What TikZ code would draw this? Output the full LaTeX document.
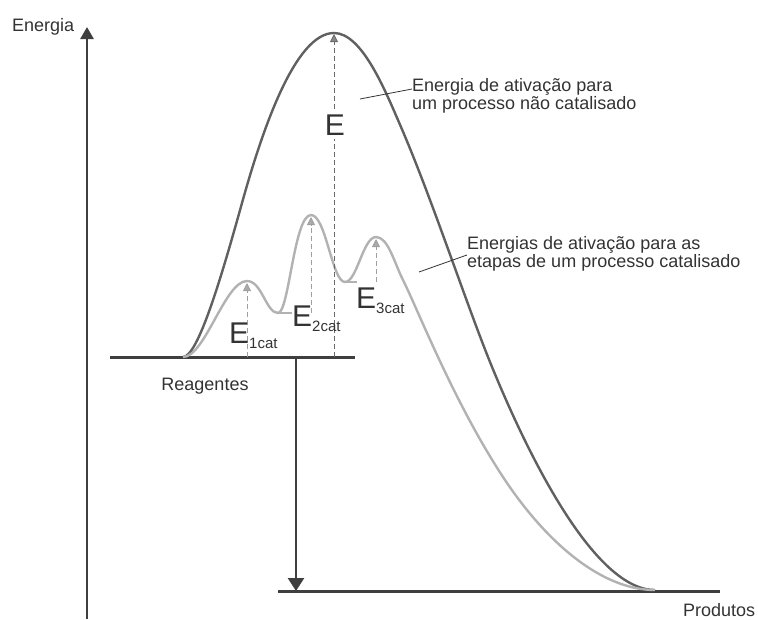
\documentclass[tikz,border=0pt]{standalone}
\usepackage{fontspec}
\setmainfont{Liberation Sans}
\usetikzlibrary{arrows.meta}
\definecolor{axisc}{HTML}{3F3F3F}
\definecolor{darkc}{HTML}{606060}
\definecolor{lightc}{HTML}{B2B2B2}
\definecolor{txtc}{HTML}{333333}
\definecolor{dashd}{HTML}{6A6A6A}
\definecolor{dashl}{HTML}{A0A0A0}
\tikzset{
  axisline/.style={draw=axisc, line width=2.6pt},
  levelline/.style={draw=axisc, line width=3pt},
  darkcurve/.style={draw=darkc, line width=2.4pt, line join=round},
  lightcurve/.style={draw=lightc, line width=2.4pt, line join=round},
  dashD/.style={draw=dashd, line width=0.9pt, dash pattern=on 5pt off 3pt},
  dashL/.style={draw=dashl, line width=0.9pt, dash pattern=on 5pt off 3pt},
  tipD/.style={-{Triangle[width=8pt,length=8pt,fill=dashd!80]}},
  tipL/.style={-{Triangle[width=8pt,length=8pt,fill=dashl!90]}},
  leader/.style={draw=txtc, line width=0.8pt},
  labeltext/.style={font=\fontsize{18}{18}\selectfont, text=txtc, inner sep=0pt},
  notetext/.style={font=\fontsize{18}{18}\selectfont, text=txtc, inner sep=0pt, align=left, anchor=north west},
  elab/.style={inner sep=0pt, anchor=base west, text=txtc},
}
\newcommand{\bigE}{{\fontsize{30}{30}\selectfont E}}
\newcommand{\subE}[1]{{\fontsize{15}{15}\selectfont\raisebox{-5pt}{#1}}}
\begin{document}
\begin{tikzpicture}[x=1pt,y=-1pt]
\useasboundingbox (0,0) rectangle (758,619);

% axis
\coordinate (axbot) at (87,619);
\coordinate (axtop) at (87,27);
\draw[axisline, -{Triangle[width=13pt,length=12pt]}] (axbot) -- (axtop);
\node[labeltext, anchor=base west] (energia) at (12,31) {Energia};

% levels
\coordinate (rl) at (110,357);
\coordinate (rr) at (355,357);
\coordinate (pl) at (278,591);
\coordinate (pr) at (720,591);
\draw[levelline] (rl) -- (rr);
\draw[levelline] (pl) -- (pr);
\node[labeltext, anchor=base] (reagentes) at (205,390) {Reagentes};
\node[labeltext, anchor=base west] (produtos) at (683,616) {Produtos};

% enthalpy arrow
\coordinate (dh1) at (296,357);
\coordinate (dh2) at (296,591);
\draw[axisline, -{Triangle[width=16pt,length=13pt]}] (dh1) -- (dh2);

% curves
\coordinate (cs) at (183,357);
\coordinate (ce) at (655,590);
\draw[darkcurve] (cs)
  .. controls (198,357) and (222,275) .. (242,203)
  .. controls (262,131) and (295,33) .. (334,33)
  .. controls (362,33) and (385,90) .. (401,127)
  .. controls (432,199) and (465,300) .. (490,362)
  .. controls (520,436) and (590,590) .. (ce);

\draw[lightcurve] (cs)
  .. controls (205,357) and (225,281) .. (247,281)
  .. controls (262,281) and (266,313) .. (278,313)
  .. controls (289,313) and (294,215) .. (311,215)
  .. controls (326,215) and (332,282) .. (345,282)
  .. controls (357,282) and (363,237) .. (376,237)
  .. controls (388,237) and (394,262) .. (403,280)
  .. controls (418,310) and (455,405) .. (505,480)
  .. controls (545,540) and (600,590) .. (ce);

% valley ticks
\coordinate (v1) at (278,313);
\coordinate (v1e) at (292,313);
\coordinate (v2) at (346,282);
\coordinate (v2e) at (357,282);
\draw[draw=lightc, line width=1.2pt] (v1) -- (v1e);
\draw[draw=lightc, line width=1.2pt] (v2) -- (v2e);

% activation energy markers
\coordinate (pk0) at (334,34);
\coordinate (b0) at (334,357);
\coordinate (pk1) at (247,283);
\coordinate (b1) at (247,357);
\coordinate (pk2) at (311,217);
\coordinate (b2) at (311,313);
\coordinate (pk3) at (376,239);
\coordinate (b3) at (376,282);
\draw[dashD, tipD] (b0) -- (pk0);
\draw[dashL, tipL] (b1) -- (pk1);
\draw[dashL, tipL] (b2) -- (pk2);
\draw[dashL, tipL] (b3) -- (pk3);

\node[inner xsep=2pt, inner ysep=4pt, fill=white, anchor=base, text=txtc] (eunc) at (335,135) {\bigE};
\node[elab] (e1) at (229,343) {\bigE\subE{1cat}};
\node[elab] (e2) at (292,326) {\bigE\subE{2cat}};
\node[elab] (e3) at (356,308) {\bigE\subE{3cat}};

% annotations
\node[notetext] (noteunc) at (412,78) {Energia de ativação para\\um processo não catalisado};
\node[notetext] (notecat) at (467,236) {Energias de ativação para as\\etapas de um processo catalisado};
\coordinate (l1s) at (360,99);
\coordinate (l1e) at (412,89);
\coordinate (l2s) at (419,272);
\coordinate (l2e) at (467,255);
\draw[leader] (l1s) -- (l1e);
\draw[leader] (l2s) -- (l2e);
\end{tikzpicture}
\end{document}
